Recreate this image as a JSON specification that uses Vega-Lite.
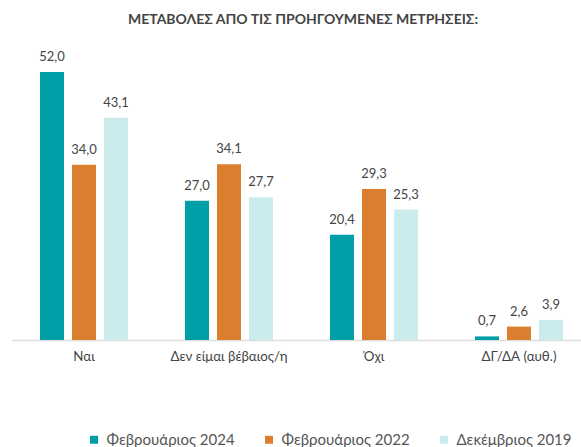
{
  "$schema": "https://vega.github.io/schema/vega-lite/v6.json",
  "autosize": "none",
  "width": 569,
  "height": 268,
  "padding": {"left": 11.5, "top": 72, "right": 0, "bottom": 107},
  "background": "white",
  "title": {
    "text": "ΜΕΤΑΒΟΛΕΣ ΑΠΟ ΤΙΣ ΠΡΟΗΓΟΥΜΕΝΕΣ ΜΕΤΡΗΣΕΙΣ:",
    "font": "Lato",
    "fontSize": 14,
    "fontWeight": "bold",
    "color": "#444444",
    "anchor": "middle",
    "frame": "group",
    "offset": 24,
    "dx": 7
  },
  "config": {
    "view": {"stroke": null},
    "locale": {"number": {"decimal": ",", "thousands": ".", "grouping": [3], "currency": ["", " €"]}}
  },
  "data": {
    "values": [
      {"category": "Ναι", "series": "Φεβρουάριος 2024", "value": 52.0},
      {"category": "Ναι", "series": "Φεβρουάριος 2022", "value": 34.0},
      {"category": "Ναι", "series": "Δεκέμβριος 2019", "value": 43.1},
      {"category": "Δεν είμαι βέβαιος/η", "series": "Φεβρουάριος 2024", "value": 27.0},
      {"category": "Δεν είμαι βέβαιος/η", "series": "Φεβρουάριος 2022", "value": 34.1},
      {"category": "Δεν είμαι βέβαιος/η", "series": "Δεκέμβριος 2019", "value": 27.7},
      {"category": "Όχι", "series": "Φεβρουάριος 2024", "value": 20.4},
      {"category": "Όχι", "series": "Φεβρουάριος 2022", "value": 29.3},
      {"category": "Όχι", "series": "Δεκέμβριος 2019", "value": 25.3},
      {"category": "ΔΓ/ΔΑ (αυθ.)", "series": "Φεβρουάριος 2024", "value": 0.7},
      {"category": "ΔΓ/ΔΑ (αυθ.)", "series": "Φεβρουάριος 2022", "value": 2.6},
      {"category": "ΔΓ/ΔΑ (αυθ.)", "series": "Δεκέμβριος 2019", "value": 3.9}
    ]
  },
  "encoding": {
    "x": {
      "field": "category",
      "type": "nominal",
      "sort": ["Ναι", "Δεν είμαι βέβαιος/η", "Όχι", "ΔΓ/ΔΑ (αυθ.)"],
      "scale": {"range": [0, 580], "paddingInner": 0, "paddingOuter": 0},
      "axis": {
        "title": null,
        "labelAngle": 0,
        "labelFont": "Lato",
        "labelFontSize": 13.3,
        "labelColor": "#444444",
        "labelPadding": 9,
        "ticks": false,
        "domainColor": "#dddddd",
        "domainWidth": 1.5
      }
    },
    "xOffset": {
      "field": "series",
      "type": "nominal",
      "sort": ["Φεβρουάριος 2024", "Φεβρουάριος 2022", "Δεκέμβριος 2019"],
      "scale": {"paddingInner": 0.25, "paddingOuter": 0.89}
    },
    "y": {
      "field": "value",
      "type": "quantitative",
      "scale": {"domain": [0, 52], "nice": false},
      "axis": null
    }
  },
  "layer": [
    {
      "mark": {"type": "bar"},
      "encoding": {
        "color": {
          "field": "series",
          "type": "nominal",
          "sort": ["Φεβρουάριος 2024", "Φεβρουάριος 2022", "Δεκέμβριος 2019"],
          "scale": {"range": ["#009FA8", "#DB7F2F", "#CCEBEC"]},
          "legend": {
            "title": null,
            "orient": "none",
            "direction": "horizontal",
            "legendX": 75,
            "legendY": 360,
            "symbolType": "square",
            "symbolSize": 64,
            "symbolStrokeWidth": 0,
            "labelFont": "Lato",
            "labelFontSize": 15,
            "labelColor": "#555555",
            "labelOffset": 5,
            "columnPadding": 26
          }
        }
      }
    },
    {
      "mark": {"type": "text", "baseline": "bottom", "dy": -8, "font": "Lato", "fontSize": 13, "color": "#444444"},
      "encoding": {
        "text": {"field": "value", "type": "quantitative", "format": ".1f"}
      }
    }
  ]
}
